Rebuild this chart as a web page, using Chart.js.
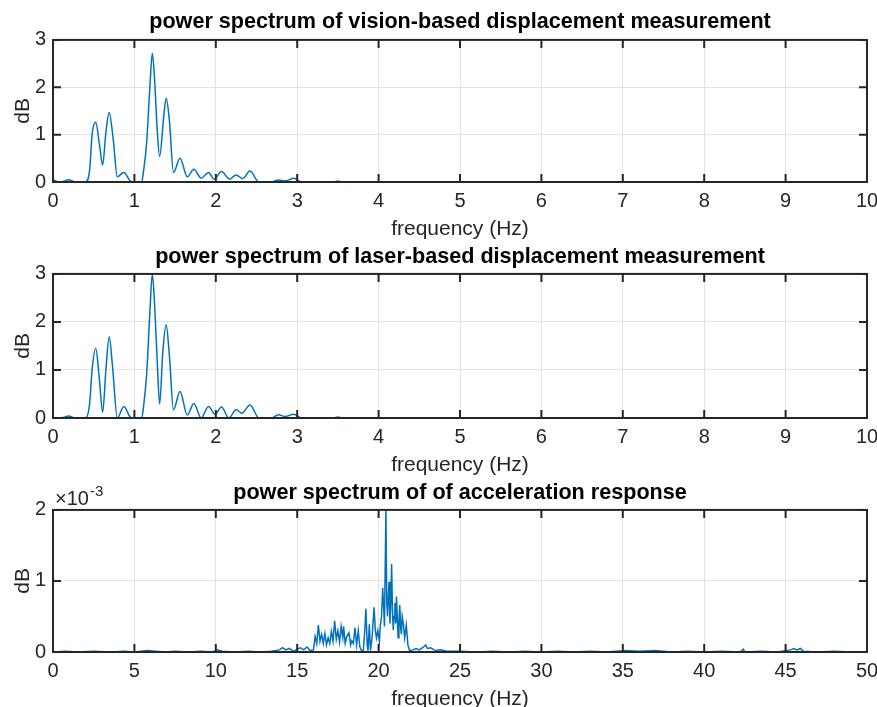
<!DOCTYPE html>
<html>
<head>
<meta charset="utf-8">
<script src="https://cdn.jsdelivr.net/npm/chart.js@4.4.1/dist/chart.umd.min.js"></script>
<style>
    body { margin: 0; width: 877px; height: 707px; overflow: hidden; background: #fff; position: relative; }
    canvas { position: absolute; left: 0; }
</style>
</head>
<body>
<canvas id="vision" width="877" height="245" style="top:0px"></canvas>
<canvas id="laser" width="877" height="243" style="top:238px"></canvas>
<canvas id="accel" width="877" height="241" style="top:474px"></canvas>
<script>
// vision-based displacement spectrum (Hz, dB)
const vision_freq = [0, 0.05, 0.1, 0.19, 0.28, 0.4, 0.45, 0.48, 0.525, 0.57, 0.61, 0.65, 0.69, 0.74, 0.79, 0.87, 0.95, 1.0, 1.09,
    1.11, 1.15, 1.19, 1.22, 1.25, 1.28, 1.31, 1.36, 1.39, 1.43, 1.48, 1.56, 1.65, 1.73, 1.82, 1.91, 1.98, 2.07, 2.17, 2.25, 2.33,
    2.42, 2.53, 2.68, 2.77, 2.85, 2.96, 3.05, 3.45, 3.5, 3.55, 10];
const vision_db = [0.05, 0.01, 0.0, 0.05, 0.0, 0.0, 0.25, 1.0, 1.26, 0.8, 0.36, 1.05, 1.47, 0.9, 0.11, 0.2, 0.02, 0.0, 0.0,
    0.2, 0.82, 2.0, 2.72, 2.1, 1.1, 0.54, 1.38, 1.77, 1.3, 0.2, 0.5, 0.11, 0.27, 0.08, 0.2, 0.06, 0.22, 0.06, 0.15, 0.07,
    0.23, 0.0, 0.0, 0.04, 0.02, 0.08, 0.0, 0.0, 0.02, 0.0, 0.0];

// laser-based displacement spectrum (Hz, dB)
const laser_freq = [0, 0.05, 0.12, 0.19, 0.27, 0.4, 0.45, 0.48, 0.525, 0.57, 0.61, 0.65, 0.69, 0.73, 0.79, 0.87, 0.95, 1.0, 1.09,
    1.11, 1.15, 1.19, 1.22, 1.25, 1.28, 1.31, 1.35, 1.39, 1.43, 1.48, 1.56, 1.65, 1.73, 1.82, 1.91, 1.99, 2.07, 2.16, 2.25, 2.32,
    2.42, 2.53, 2.68, 2.77, 2.85, 2.96, 3.05, 3.45, 3.5, 3.55, 10];
const laser_db = [0.0, 0.0, 0.01, 0.04, 0.0, 0.0, 0.3, 1.0, 1.45, 0.8, 0.12, 1.0, 1.69, 1.1, 0.0, 0.24, 0.02, 0.0, 0.0,
    0.2, 0.9, 2.2, 3.0, 2.3, 1.2, 0.29, 1.4, 1.94, 1.3, 0.17, 0.55, 0.06, 0.3, 0.0, 0.24, 0.08, 0.23, 0.0, 0.17, 0.1,
    0.27, 0.0, 0.0, 0.07, 0.03, 0.08, 0.0, 0.0, 0.02, 0.0, 0.0];

// acceleration response spectrum (Hz, dB x 10^-3)
const accel_freq = [0, 0.8, 1.5, 2.5, 3.5, 4.4, 5.0, 5.8, 6.3, 6.9, 7.5, 8.3, 9.1, 9.8, 10.1, 10.4, 11.2, 12.0, 12.8, 13.4,
    13.9, 14.1, 14.3, 14.5, 14.8, 15.0, 15.2, 15.4, 15.6, 15.8, 16.0,
    16.1, 16.2, 16.3, 16.4, 16.5, 16.6, 16.7, 16.8, 16.9, 17.0, 17.1, 17.2, 17.3, 17.4, 17.5, 17.6, 17.7, 17.8, 17.85, 17.95,
    18.05, 18.18, 18.28, 18.35, 18.45, 18.55, 18.65, 18.75, 18.85, 18.95, 19.06, 19.15, 19.22, 19.3, 19.35, 19.43, 19.5, 19.6,
    19.72, 19.8, 19.87, 19.95, 20.05, 20.1, 20.18, 20.25, 20.32, 20.36, 20.45, 20.5, 20.55, 20.6, 20.64, 20.7, 20.75, 20.8,
    20.85, 20.9, 20.95, 21.0, 21.05, 21.1, 21.15, 21.2, 21.25, 21.3, 21.35, 21.4, 21.45, 21.52, 21.6, 21.7, 21.8, 21.9,
    22.1, 22.3, 22.5, 22.7, 22.9, 23.0, 23.2, 23.5, 23.8, 24.2, 25, 26, 27, 28, 29, 30, 31, 32, 33, 34, 35.2, 36, 37, 38, 39,
    40, 41, 42.2, 42.4, 42.5, 43.5, 44.5, 45.3, 45.5, 45.7, 45.9, 46.1, 47, 48, 49, 50];
const accel_db = [0, 0.01, 0, 0.01, 0, 0.01, 0.0, 0.02, 0.01, 0.0, 0.01, 0, 0.01, 0.0, 0.03, 0.01, 0.0, 0.01, 0.0, 0.01,
    0.03, 0.06, 0.03, 0.05, 0.01, 0.04, 0.06, 0.03, 0.07, 0.02, 0.03,
    0.22, 0.12, 0.38, 0.15, 0.25, 0.12, 0.26, 0.1, 0.2, 0.12, 0.29, 0.15, 0.44, 0.18, 0.3, 0.14, 0.36, 0.2, 0.36, 0.12,
    0.22, 0.27, 0.1, 0.16, 0.12, 0.34, 0.1, 0.3, 0.07, 0.02, 0.02, 0.3, 0.61, 0.1, 0.02, 0.39, 0.02, 0.2,
    0.63, 0.3, 0.2, 0.3, 0.15, 0.36, 0.5, 0.9, 0.6, 0.36, 2.0, 0.7, 0.5, 0.8, 0.99, 0.4, 0.7, 1.24,
    0.6, 0.31, 0.5, 0.69, 0.4, 0.78, 0.45, 0.2, 0.45, 0.66, 0.35, 0.25, 0.5, 0.4, 0.2, 0.38, 0.1, 0.02,
    0.03, 0.05, 0.03, 0.06, 0.1, 0.05, 0.06, 0.02, 0.03, 0.01, 0.01, 0.0, 0.01, 0.0, 0.01, 0, 0.01, 0.0, 0.01, 0.0, 0.02, 0.01, 0.02, 0.0, 0.01,
    0.0, 0.01, 0.0, 0.04, 0.0, 0.01, 0.0, 0.03, 0.05, 0.03, 0.05, 0.01, 0.0, 0.01, 0, 0];

const BLUE = '#0072BD';
const AXIS = '#262626';
Chart.defaults.font.family = '"Liberation Sans", Arial, Helvetica, sans-serif';
Chart.defaults.color = AXIS;

// matlab style box with inward ticks on all four sides
const box_plugin = {
    id: 'box',
    afterDatasetsDraw(chart) {
        const ctx = chart.ctx;
        const a = chart.chartArea;
        const xs = chart.scales.x;
        const ys = chart.scales.y;
        ctx.save();
        ctx.strokeStyle = AXIS;
        ctx.lineWidth = 2;
        ctx.beginPath();
        xs.ticks.forEach(t => {
            const px = xs.getPixelForValue(t.value);
            ctx.moveTo(px, a.bottom);
            ctx.lineTo(px, a.bottom - 8);
            ctx.moveTo(px, a.top);
            ctx.lineTo(px, a.top + 8);
        });
        ys.ticks.forEach(t => {
            const py = ys.getPixelForValue(t.value);
            ctx.moveTo(a.left, py);
            ctx.lineTo(a.left + 8, py);
            ctx.moveTo(a.right, py);
            ctx.lineTo(a.right - 8, py);
        });
        ctx.stroke();
        ctx.strokeRect(a.left, a.top, a.right - a.left, a.bottom - a.top);
        ctx.restore();
    }
};

// "x10^-3" multiplier above the y axis
const exponent_plugin = {
    id: 'exponent',
    afterDraw(chart) {
        const ctx = chart.ctx;
        const a = chart.chartArea;
        ctx.save();
        ctx.fillStyle = AXIS;
        ctx.textBaseline = 'alphabetic';
        ctx.font = '20px "Liberation Sans", Arial, sans-serif';
        ctx.fillText('\u00d710', a.left + 2, a.top - 5);
        const w = ctx.measureText('\u00d710').width;
        ctx.font = '15px "Liberation Sans", Arial, sans-serif';
        ctx.fillText('-3', a.left + 3 + w, a.top - 14);
        ctx.restore();
    }
};

function make_points(xs, ys) {
    return xs.map((x, i) => ({ x: x, y: ys[i] }));
}

function create_chart(id, title, xs, ys, xmax, xstep, ymax, smooth, plugins) {
    new Chart(document.getElementById(id), {
        type: 'line',
        data: {
            datasets: [{
                data: make_points(xs, ys),
                borderColor: BLUE,
                borderWidth: 1.5,
                pointRadius: 0,
                tension: 0,
                cubicInterpolationMode: smooth ? 'monotone' : 'default',
                fill: false
            }]
        },
        options: {
            responsive: false,
            animation: false,
            layout: { padding: { left: 0, right: 10, top: 0, bottom: 0 } },
            plugins: {
                legend: { display: false },
                tooltip: { enabled: false },
                title: {
                    display: true,
                    text: title,
                    fullSize: false,
                    color: '#000',
                    font: { size: 21.6, weight: 'bold', lineHeight: 1.2 },
                    padding: id == 'vision' ? { top: 9, bottom: 5 } : { top: 6, bottom: 4 }
                }
            },
            scales: {
                x: {
                    type: 'linear',
                    min: 0,
                    max: xmax,
                    border: { display: false },
                    grid: { color: '#e3e3e3', drawTicks: false },
                    ticks: { stepSize: xstep, padding: 7, font: { size: 20 }, maxRotation: 0 },
                    title: { display: true, text: 'frequency (Hz)', font: { size: 21 }, padding: { top: 0, bottom: 3 } },
                    afterFit: s => { s.height = 63; s.paddingLeft = 0; s.paddingRight = 0; }
                },
                y: {
                    min: 0,
                    max: ymax,
                    border: { display: false },
                    grid: { color: '#e3e3e3', drawTicks: false },
                    ticks: { stepSize: 1, padding: 7, font: { size: 20 } },
                    title: { display: true, text: 'dB', font: { size: 21 }, padding: { top: 11, bottom: 0 } },
                    afterFit: s => { s.width = 53; s.paddingTop = 0; s.paddingBottom = 0; }
                }
            }
        },
        plugins: plugins
    });
}

create_chart('vision', 'power spectrum of vision-based displacement measurement', vision_freq, vision_db, 10, 1, 3, true, [box_plugin]);
create_chart('laser', 'power spectrum of laser-based displacement measurement', laser_freq, laser_db, 10, 1, 3, true, [box_plugin]);
create_chart('accel', 'power spectrum of of acceleration response', accel_freq, accel_db, 50, 5, 2, false, [box_plugin, exponent_plugin]);
</script>
</body>
</html>
